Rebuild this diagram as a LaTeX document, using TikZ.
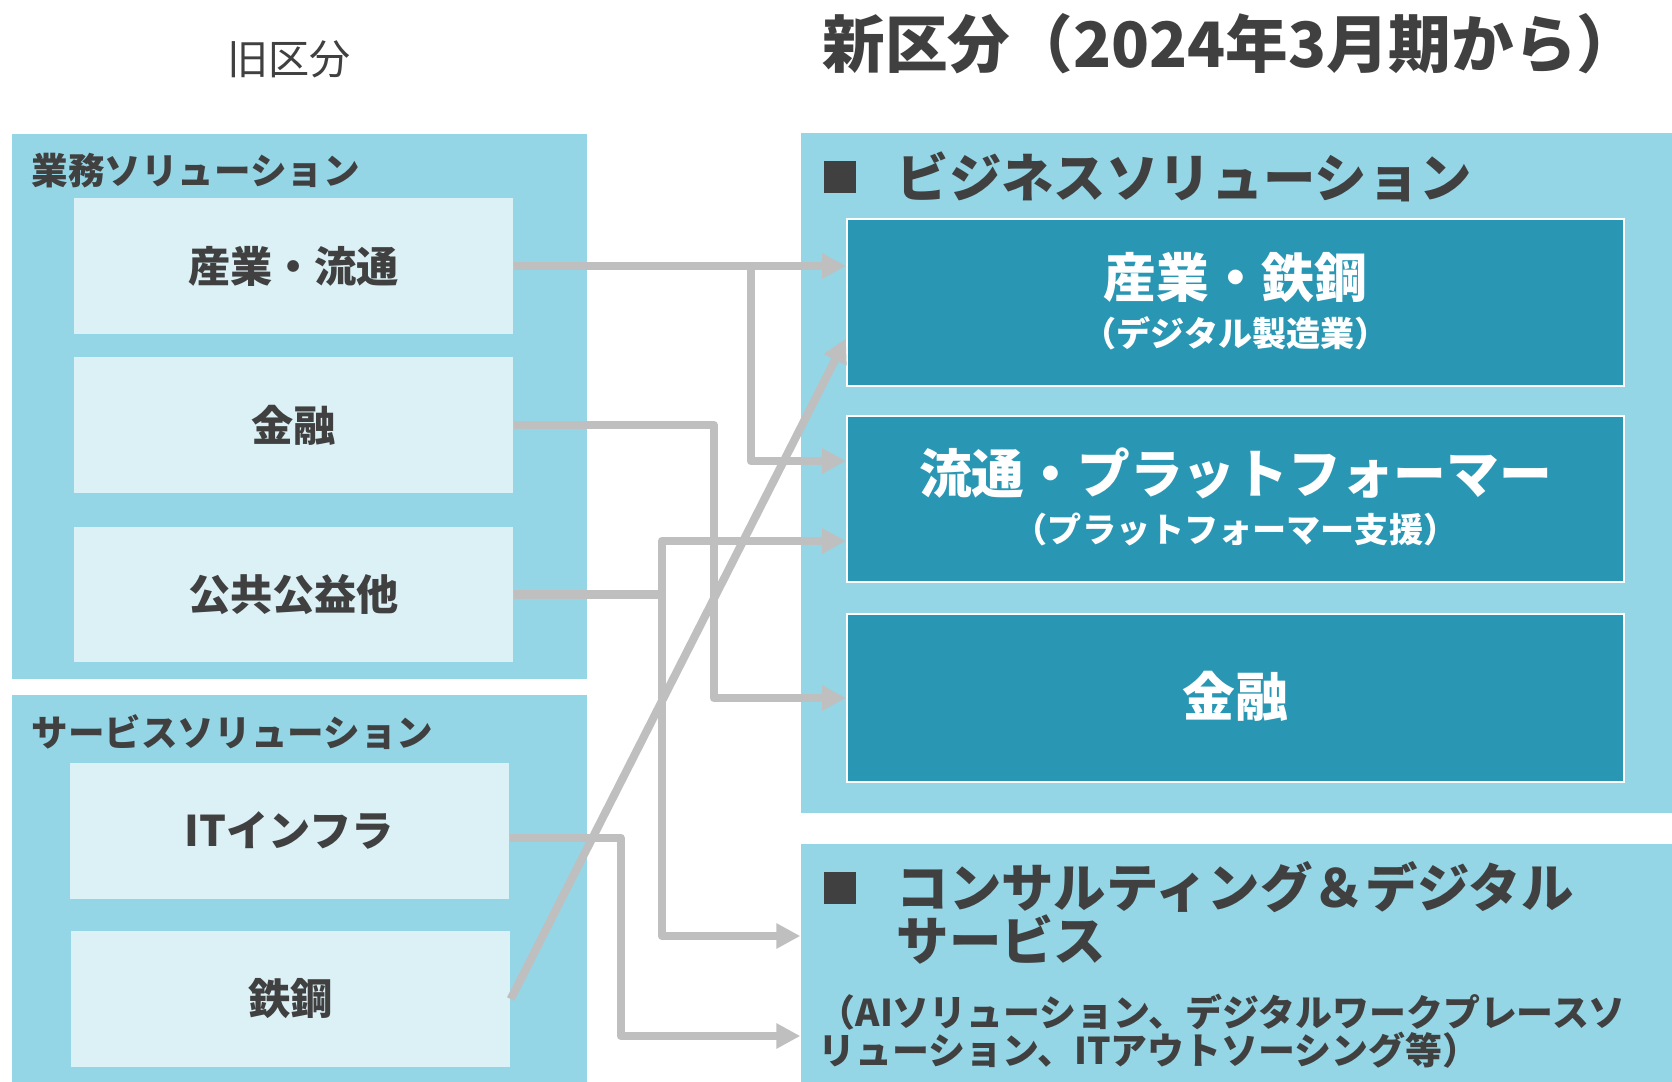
\documentclass[tikz,border=0pt]{standalone}
\usepackage{fontspec}
\setmainfont{Noto Sans CJK JP}
\usetikzlibrary{arrows.meta,positioning,fit,calc}
\definecolor{groupcolor}{RGB}{148,214,230}
\definecolor{oldcolor}{RGB}{219,241,246}
\definecolor{newcolor}{RGB}{41,151,179}
\definecolor{textcolor}{RGB}{64,64,64}
\definecolor{linkcolor}{RGB}{191,191,191}

\begin{document}
\begin{tikzpicture}[
    x=0.01cm, y=-0.01cm,
    group/.style={rectangle, fill=groupcolor, inner sep=0pt},
    oldseg/.style={rectangle, fill=oldcolor, inner sep=0pt},
    oldname/.style={text=textcolor, font=\fontsize{12}{14}\selectfont\bfseries, inner sep=0pt},
    newseg/.style={rectangle, fill=newcolor, draw=white, line width=0.6pt, inner sep=0pt},
    newname/.style={text=white, font=\fontsize{15}{18}\selectfont\bfseries, inner sep=0pt},
    newnote/.style={text=white, font=\fontsize{9.7}{12}\selectfont\bfseries, inner sep=0pt},
    grouplabel/.style={anchor=west, text=textcolor, font=\fontsize{10.4}{12}\selectfont\bfseries, inner sep=0pt},
    header/.style={anchor=west, text=textcolor, font=\fontsize{14.9}{15.1}\selectfont\bfseries, inner sep=0pt, align=left},
    bullet/.style={rectangle, fill=textcolor, minimum size=0.31cm, inner sep=0pt},
    arrow/.style={-{Triangle[length=6.8pt,width=6.8pt]}, line width=2.3pt, draw=linkcolor, line join=round}
]

% Canvas
\useasboundingbox[fill=white] (0,0) rectangle (1672,1082);

% Titles
\node[text=textcolor, font=\fontsize{11.7}{14}\selectfont, inner sep=0pt] (oldtitle) at (289,59) {旧区分};
\node[anchor=west, text=textcolor, font=\fontsize{17.8}{20}\selectfont\bfseries, inner sep=0pt] (newtitle) at (822,44) {新区分（2024年3月期から）};

% Old segments
\node[group, fit={(12,134) (587,679)}] (gyomu) {};
\node[grouplabel] (gyomulabel) at (31,171) {業務ソリューション};
\node[oldseg, fit={(74,198) (513,334)}] (sangyo_old) {};
\node[oldname] at (sangyo_old.center) {産業・流通};
\node[oldseg, fit={(74,357) (513,493)}] (kinyu_old) {};
\node[oldname] at (kinyu_old.center) {金融};
\node[oldseg, fit={(74,527) (513,662)}] (kokyo_old) {};
\node[oldname] at (kokyo_old.center) {公共公益他};

\node[group, fit={(12,695) (587,1082)}] (service) {};
\node[grouplabel] (servicelabel) at (31,732) {サービスソリューション};
\node[oldseg, fit={(70,763) (509,899)}] (itinfra_old) {};
\node[oldname] at (itinfra_old.center) {ITインフラ};
\node[oldseg, fit={(71,931) (510,1067)}] (tekko_old) {};
\node[oldname] at (tekko_old.center) {鉄鋼};

% New segments
\node[group, fit={(801,133) (1672,813)}] (business) {};
\node[bullet] (bizmark) at (840,177) {};
\node[header] (bizhead) at (896,177) {ビジネスソリューション};
\node[newseg, fit={(847,219) (1624,386)}] (sangyo_new) {};
\node[newname] at ($(sangyo_new.center)+(0,-25)$) {産業・鉄鋼};
\node[newnote] at ($(sangyo_new.center)+(0,31)$) {（デジタル製造業）};
\node[newseg, fit={(847,416) (1624,582)}] (ryutsu_new) {};
\node[newname] at ($(ryutsu_new.center)+(0,-26)$) {流通・プラットフォーマー};
\node[newnote] at ($(ryutsu_new.center)+(0,31)$) {（プラットフォーマー支援）};
\node[newseg, fit={(847,614) (1624,782)}] (kinyu_new) {};
\node[newname] at ($(kinyu_new.center)+(0,-2)$) {金融};

\node[group, fit={(801,844) (1672,1082)}] (consul) {};
\node[bullet] (conmark) at (840,888) {};
\node[header] (conhead) at (896,913) {コンサルティング＆デジタル\\サービス};
\node[anchor=west, text=textcolor, font=\fontsize{10.5}{10.8}\selectfont\bfseries, inner sep=0pt, align=left] (connote) at (818,1031)
    {（AIソリューション、デジタルワークプレースソ\\リューション、ITアウトソーシング等）};

% Arrows
\draw[arrow] (sangyo_old.east) -- (sangyo_old.east -| sangyo_new.west);
\draw[arrow] (sangyo_old.east) -- ++(237,0) |- ($(ryutsu_new.west)+(0,-38)$);
\draw[arrow] (kinyu_old.east) -- ++(200,0) |- (kinyu_new.west);
\draw[arrow] (kokyo_old.east) -- ++(148,0) |- ($(ryutsu_new.west)+(0,42)$);
\draw[arrow] (kokyo_old.east) -- ++(148,0) |- ($(consul.west)+(0,-27)$);
\draw[arrow] ($(itinfra_old.east)+(0,7)$) -- ++(111,0) |- ($(consul.west)+(0,73)$);
\draw[arrow] (tekko_old.east) -- ($(sangyo_new.west)+(0,36)$);

\end{tikzpicture}
\end{document}
